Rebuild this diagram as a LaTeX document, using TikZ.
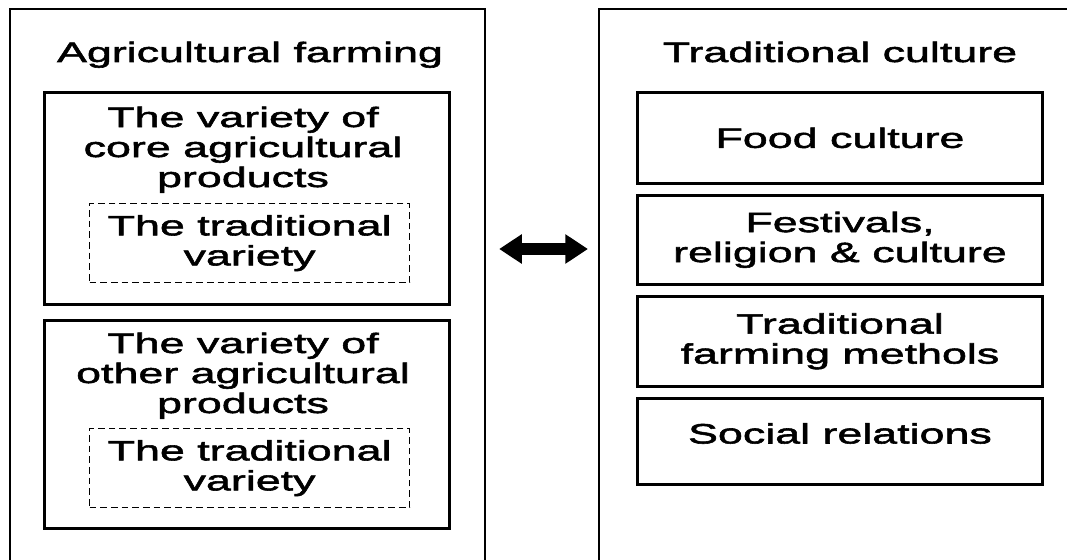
\documentclass[tikz,border=0pt]{standalone}
\usepackage{fontspec}
\setmainfont{Liberation Sans}[FakeStretch=1.6, FakeBold=2]
\usetikzlibrary{arrows.meta}

\tikzset{
    panel/.style={draw, line width=1.6pt, anchor=north west, inner sep=0pt},
    itembox/.style={draw, line width=2pt, anchor=north west, inner sep=0pt, minimum width=304pt,
        font=\fontsize{21}{22.5}\selectfont, align=center},
    dashbox/.style={draw, line width=0.9pt, dash pattern=on 5pt off 3pt, anchor=north west,
        inner sep=0pt, minimum width=240pt, minimum height=59.25pt,
        font=\fontsize{21}{22.5}\selectfont, align=center},
    txt/.style={font=\fontsize{21}{22.5}\selectfont, align=center, inner sep=0pt, anchor=base},
    bothway/.style={line width=9pt, {Triangle[length=17pt,width=21pt]}-{Triangle[length=17pt,width=21pt]}}
}

\begin{document}
\begin{tikzpicture}[x=0.75pt, y=-0.75pt]
    \useasboundingbox (0,0) rectangle (1067,560);
    \fill[white] (0,0) rectangle (1067,560);
    \clip (0,0) rectangle (1067,560);

    % the two panels
    \node[panel, minimum width=356.25pt, minimum height=450pt] (farming) at (9,8) {};
    \node[panel, minimum width=375pt, minimum height=450pt] (culture) at (598,8) {};
    \node[txt] (farmtitle) at (250,62) {Agricultural farming};
    \node[txt] (culttitle) at (840,62) {Traditional culture};

    % left side (base = last line)
    \node[itembox, minimum height=159pt] (core) at (43,91) {};
    \node[txt] (coretxt) at (243,187) {The variety of\\core agricultural\\products};
    \node[dashbox] (coretrad) at (89,203) {The traditional\\variety};

    \node[itembox, minimum height=156pt] (other) at (43,319) {};
    \node[txt] (othertxt) at (243,413) {The variety of\\other agricultural\\products};
    \node[dashbox] (othertrad) at (89,428) {The traditional\\variety};

    % right side
    \node[itembox, minimum height=68.25pt] (food) at (636,91) {Food culture};
    \node[itembox, minimum height=66.75pt] (fest) at (636,194) {Festivals,\\religion \& culture};
    \node[itembox, minimum height=67.5pt] (methods) at (636,295) {Traditional\\farming methols};
    \node[itembox, minimum height=64.5pt, text depth=12pt] (social) at (636,397) {Social relations};

    % link between the panels
    \coordinate (mid) at (541,249);
    \draw[bothway, shorten <=9.75pt, shorten >=7.5pt] (farming.east |- mid) -- (culture.west |- mid);
\end{tikzpicture}
\end{document}
